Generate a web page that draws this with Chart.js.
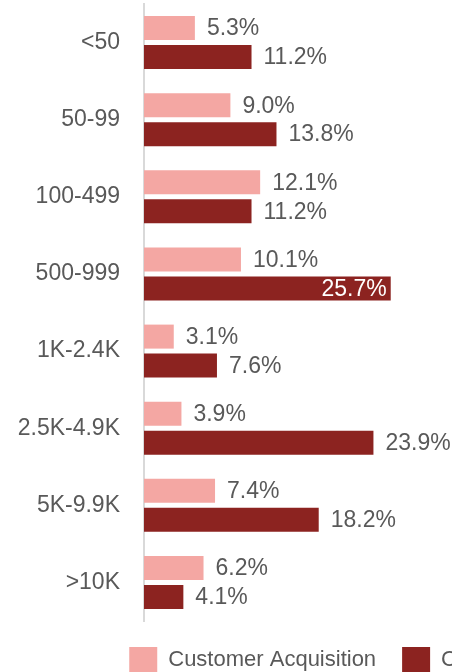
<!DOCTYPE html>
<html>
<head>
<meta charset="utf-8">
<script src="https://cdn.jsdelivr.net/npm/chart.js@4/dist/chart.umd.min.js"></script>
<style>
  html, body { margin: 0; padding: 0; background: #ffffff; overflow: hidden; }
  #wrap { width: 766px; height: 683px; }
</style>
</head>
<body>
<div id="wrap"><canvas id="chart" width="766" height="683"></canvas></div>
<script>
// Company-size bands (number of employees)
const categories = ['<50', '50-99', '100-499', '500-999', '1K-2.4K', '2.5K-4.9K', '5K-9.9K', '>10K'];

// Share of each band, in percent
const acquisition = [5.3, 9.0, 12.1, 10.1, 3.1, 3.9, 7.4, 6.2];
const retention   = [11.2, 13.8, 11.2, 25.7, 7.6, 23.9, 18.2, 4.1];

const seriesNames = ['Customer Acquisition', 'Customer Retention'];

const TEXT = '#595959';
const PINK = '#F4A7A3';
const DARK = '#8C2320';
const FONT = '"Liberation Sans", Arial, Helvetica, sans-serif';
const CANVAS_W = 766;
const AXIS_X = 144;      // left edge of the plotting area
const PX_PER_UNIT = 9.6; // horizontal pixels per percentage point
const VISIBLE_W = 452;   // labels that would run past this go inside the bar

// Value labels beside (or inside) each bar
const valueLabels = {
  id: 'valueLabels',
  afterDatasetsDraw(chart) {
    const ctx = chart.ctx;
    ctx.save();
    ctx.font = '23px ' + FONT;
    ctx.textBaseline = 'middle';
    chart.data.datasets.forEach((ds, di) => {
      const meta = chart.getDatasetMeta(di);
      meta.data.forEach((bar, i) => {
        const txt = ds.data[i].toFixed(1) + '%';
        const w = ctx.measureText(txt).width;
        if (bar.x + 12 + w > VISIBLE_W) {
          ctx.fillStyle = '#ffffff';
          ctx.textAlign = 'right';
          ctx.fillText(txt, bar.x - 4, bar.y + 1);
        } else {
          ctx.fillStyle = TEXT;
          ctx.textAlign = 'left';
          ctx.fillText(txt, bar.x + 12, bar.y + 1);
        }
      });
    });
    ctx.restore();
  }
};

new Chart(document.getElementById('chart'), {
  type: 'bar',
  data: {
    labels: categories,
    datasets: [
      { label: seriesNames[0], data: acquisition, backgroundColor: PINK },
      { label: seriesNames[1], data: retention, backgroundColor: DARK }
    ]
  },
  options: {
    indexAxis: 'y',
    responsive: false,
    animation: false,
    events: [],
    layout: { padding: { top: 4, right: 0, bottom: 0, left: 0 } },
    datasets: { bar: { categoryPercentage: 0.75, barPercentage: 0.83 } },
    scales: {
      x: {
        display: false,
        min: 0,
        max: (CANVAS_W - AXIS_X) / PX_PER_UNIT
      },
      y: {
        afterFit(scale) {
          scale.width = AXIS_X;
          scale.paddingTop = 0;
          scale.paddingBottom = 0;
        },
        grid: { display: false },
        border: { display: true, color: '#D9D9D9', width: 2 },
        ticks: { color: TEXT, padding: 16, font: { family: FONT, size: 23 } }
      }
    },
    plugins: {
      tooltip: { enabled: false },
      legend: {
        position: 'bottom',
        labels: {
          color: TEXT,
          boxWidth: 28,
          boxHeight: 26,
          padding: 26,
          font: { family: FONT, size: 22 }
        }
      }
    }
  },
  plugins: [valueLabels]
});
</script>
</body>
</html>
